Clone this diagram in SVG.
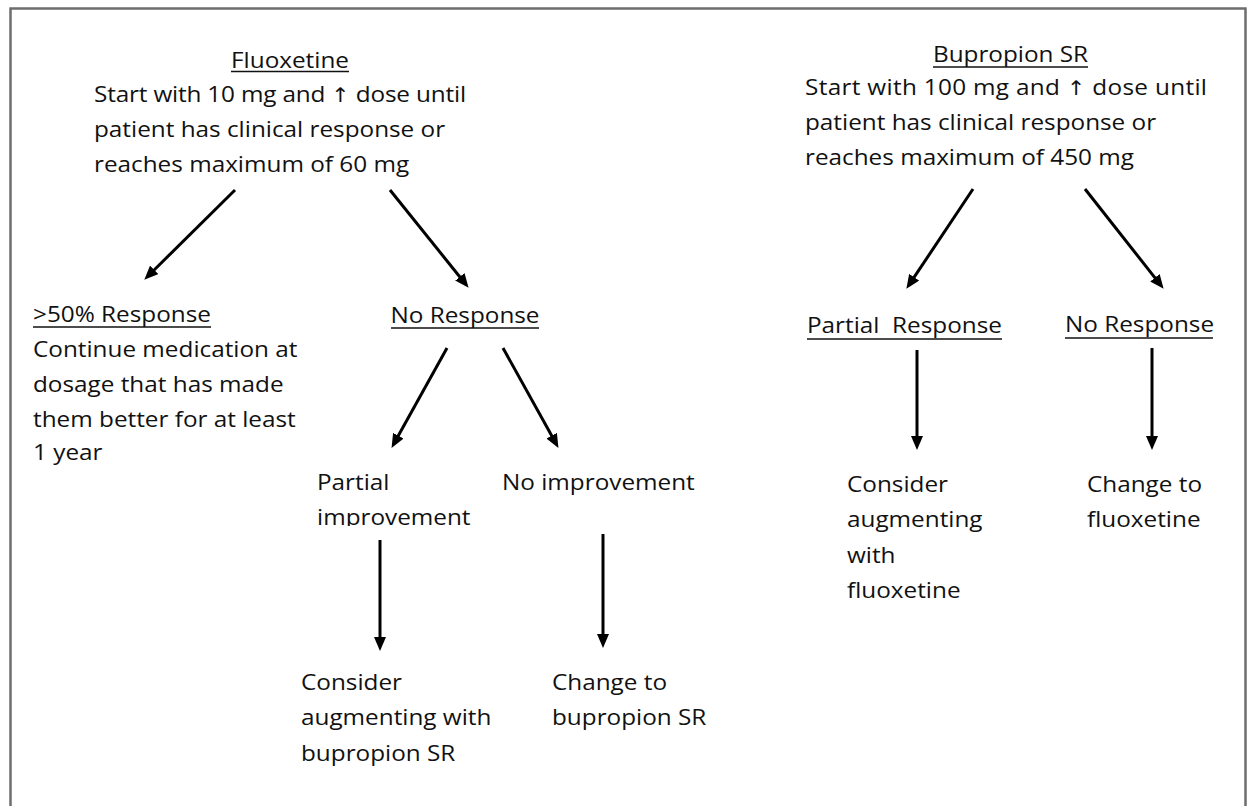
<svg xmlns="http://www.w3.org/2000/svg" width="1253" height="806" viewBox="0 0 1253 806">
  <defs>
    <marker id="ah" viewBox="0 0 14 12" refX="3" refY="6" markerWidth="14" markerHeight="12" markerUnits="userSpaceOnUse" orient="auto">
      <path d="M0,0 L14,6 L0,12 Z" fill="#000"/>
    </marker>
    <clipPath id="cutImp" clipPathUnits="userSpaceOnUse">
      <rect x="300" y="500" width="220" height="26"/>
    </clipPath>
  </defs>
  <style>
    text { font-family: "Open Sans", Lato, "Liberation Sans", sans-serif; font-size: 22px; fill: #111; }
    .up { font-family: "DejaVu Sans", sans-serif; font-size: 20px; }
    .ul { stroke: #111; stroke-width: 1.6; }
    .arr { stroke: #000; stroke-width: 3; fill: none; marker-end: url(#ah); }
  </style>
  <rect x="0" y="0" width="1253" height="806" fill="#fff"/>
  <path d="M10.5,806 V8.5 H1245.5 V806" fill="none" stroke="#6e6e6e" stroke-width="2.5"/>

  <g id="fluoxetine">
    <g transform="translate(94,0) scale(1.105,1)">
      <text x="177.4" y="68" text-anchor="middle">Fluoxetine</text>
      <text x="0" y="102" textLength="336.7">Start with 10 mg and <tspan class="up">↑</tspan> dose until</text>
      <text x="0" y="137">patient has clinical response or</text>
      <text x="0" y="172">reaches maximum of 60 mg</text>
    </g>
    <line class="ul" x1="231" y1="71.5" x2="349" y2="71.5"/>
  </g>

  <g id="response50">
    <g transform="translate(33,0) scale(1.105,1)">
      <text x="0" y="322">&gt;50% Response</text>
      <text x="0" y="357">Continue medication at</text>
      <text x="0" y="392">dosage that has made</text>
      <text x="0" y="427">them better for at least</text>
      <text x="0" y="460">1 year</text>
    </g>
    <line class="ul" x1="33" y1="327" x2="211" y2="327"/>
  </g>

  <g id="noresponse-left">
    <g transform="translate(465,0) scale(1.105,1)">
      <text x="0" y="323" text-anchor="middle">No Response</text>
    </g>
    <line class="ul" x1="391" y1="328" x2="539" y2="328"/>
  </g>

  <g id="partial-improvement">
    <g transform="translate(317,0) scale(1.105,1)">
      <text x="0" y="490">Partial</text>
    </g>
    <g clip-path="url(#cutImp)">
      <g transform="translate(317,0) scale(1.105,1)">
        <text x="0" y="525">improvement</text>
      </g>
    </g>
  </g>

  <g id="no-improvement">
    <g transform="translate(502,0) scale(1.105,1)">
      <text x="0" y="490">No improvement</text>
    </g>
  </g>

  <g id="augment-bupropion">
    <g transform="translate(301,0) scale(1.105,1)">
      <text x="0" y="690">Consider</text>
      <text x="0" y="725">augmenting with</text>
      <text x="0" y="761">bupropion SR</text>
    </g>
  </g>

  <g id="change-bupropion">
    <g transform="translate(552,0) scale(1.105,1)">
      <text x="0" y="690">Change to</text>
      <text x="0" y="725">bupropion SR</text>
    </g>
  </g>

  <g id="bupropion">
    <g transform="translate(805,0) scale(1.105,1)">
      <text x="186" y="62" text-anchor="middle">Bupropion SR</text>
      <text x="0" y="95" textLength="363.8">Start with 100 mg and <tspan class="up">↑</tspan> dose until</text>
      <text x="0" y="130">patient has clinical response or</text>
      <text x="0" y="165">reaches maximum of 450 mg</text>
    </g>
    <line class="ul" x1="933" y1="67" x2="1088" y2="67"/>
  </g>

  <g id="partial-response">
    <g transform="translate(807,0) scale(1.105,1)">
      <text x="0" y="333">Partial&#160; Response</text>
    </g>
    <line class="ul" x1="807" y1="339" x2="1002" y2="339"/>
  </g>

  <g id="noresponse-right">
    <g transform="translate(1065,0) scale(1.105,1)">
      <text x="0" y="332">No Response</text>
    </g>
    <line class="ul" x1="1065" y1="338" x2="1213" y2="338"/>
  </g>

  <g id="augment-fluoxetine">
    <g transform="translate(847,0) scale(1.105,1)">
      <text x="0" y="492">Consider</text>
      <text x="0" y="527">augmenting</text>
      <text x="0" y="563">with</text>
      <text x="0" y="598">fluoxetine</text>
    </g>
  </g>

  <g id="change-fluoxetine">
    <g transform="translate(1087,0) scale(1.105,1)">
      <text x="0" y="492">Change to</text>
      <text x="0" y="527">fluoxetine</text>
    </g>
  </g>

  <g id="connectors">
    <line class="arr" x1="235" y1="190" x2="152.1" y2="272"/>
    <line class="arr" x1="390" y1="190" x2="461.7" y2="279.2"/>
    <line class="arr" x1="447" y1="348" x2="396.9" y2="438.3"/>
    <line class="arr" x1="503" y1="348" x2="553.1" y2="438.3"/>
    <line class="arr" x1="380" y1="540" x2="380" y2="640"/>
    <line class="arr" x1="603" y1="534" x2="603" y2="637"/>
    <line class="arr" x1="973" y1="189" x2="912.5" y2="279.7"/>
    <line class="arr" x1="1085" y1="189" x2="1156.8" y2="280.1"/>
    <line class="arr" x1="917" y1="350" x2="917" y2="439"/>
    <line class="arr" x1="1152" y1="348" x2="1152" y2="439"/>
  </g>
</svg>
